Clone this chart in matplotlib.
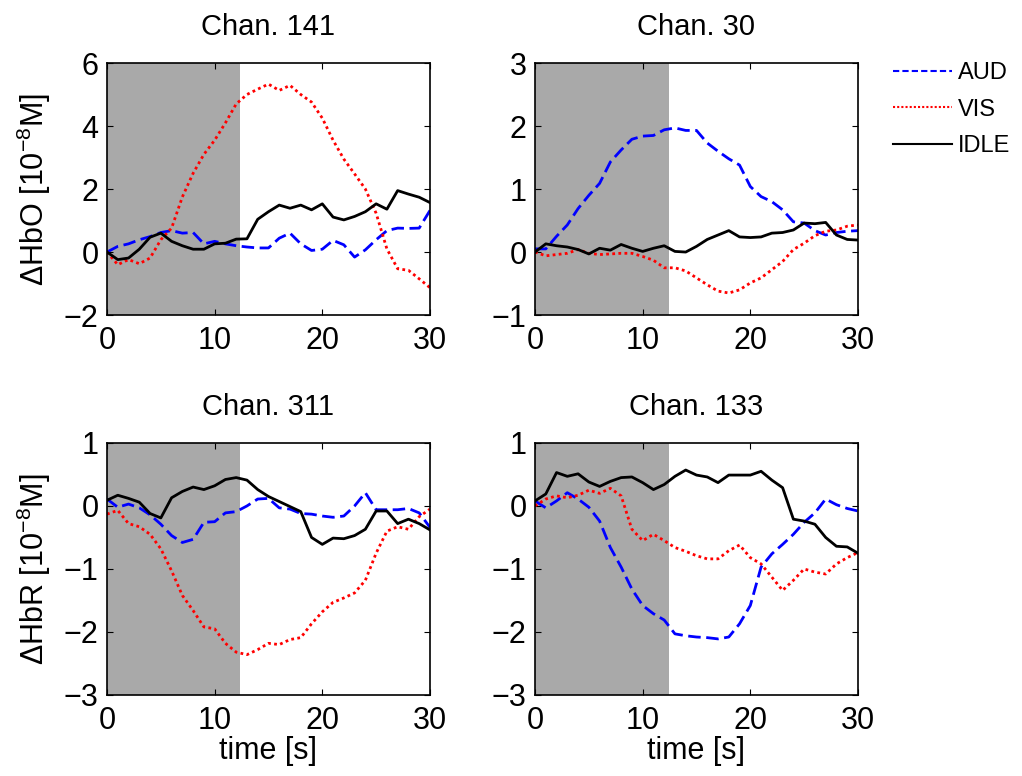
import numpy as np
import matplotlib
matplotlib.use("Agg")
import matplotlib.pyplot as plt
from matplotlib.lines import Line2D

plt.rcParams['font.family'] = ['Liberation Sans', 'DejaVu Sans']
plt.rcParams['mathtext.fontset'] = 'custom'
plt.rcParams['mathtext.rm'] = 'Liberation Sans'
plt.rcParams['mathtext.it'] = 'Liberation Sans:italic'

####################################################################
# data (1 s sampling)

time = np.arange(31)
stim_end = 12.4

titles = ['Chan. 141', 'Chan. 30', 'Chan. 311', 'Chan. 133']

aud_141 = [0, 0.18, 0.26, 0.39, 0.49, 0.62, 0.68, 0.6, 0.62, 0.26, 0.34, 0.26, 0.2, 0.16, 0.13, 0.13,
           0.44, 0.6, 0.26, 0.05, 0.09, 0.37, 0.23, -0.16, 0.07, 0.39, 0.68, 0.76, 0.75, 0.76, 1.32]
vis_141 = [0, -0.4, -0.24, -0.37, -0.19, 0.39, 0.76, 1.75, 2.5, 3.1, 3.55, 4.1, 4.7, 5.0, 5.17, 5.33,
           5.13, 5.29, 5.0, 4.76, 4.25, 3.55, 2.95, 2.48, 2.0, 1.23, 0.1, -0.53, -0.58, -0.85, -1.13]
idle_141 = [0, -0.24, -0.19, 0.09, 0.47, 0.6, 0.34, 0.2, 0.09, 0.09, 0.26, 0.28, 0.41, 0.42, 1.04, 1.28,
            1.49, 1.39, 1.49, 1.34, 1.53, 1.11, 1.02, 1.13, 1.28, 1.53, 1.36, 1.95, 1.84, 1.74, 1.57]

aud_30 = [0.05, 0.05, 0.25, 0.43, 0.69, 0.9, 1.09, 1.43, 1.62, 1.79, 1.84, 1.85, 1.94, 1.97, 1.93, 1.93,
          1.73, 1.6, 1.48, 1.38, 1.04, 0.88, 0.8, 0.67, 0.48, 0.46, 0.34, 0.27, 0.31, 0.33, 0.34]
vis_30 = [0, -0.06, -0.04, -0.02, 0.04, -0.02, -0.04, -0.03, -0.02, -0.02, -0.07, -0.13, -0.25, -0.25,
          -0.3, -0.41, -0.52, -0.62, -0.65, -0.6, -0.49, -0.41, -0.28, -0.15, 0.04, 0.14, 0.26, 0.33,
          0.35, 0.41, 0.43]
idle_30 = [0, 0.13, 0.1, 0.08, 0.04, -0.03, 0.06, 0.03, 0.12, 0.06, 0.01, 0.06, 0.1, 0.01, 0, 0.09,
           0.2, 0.27, 0.34, 0.24, 0.23, 0.24, 0.3, 0.31, 0.35, 0.46, 0.45, 0.47, 0.27, 0.2, 0.19]

aud_311 = [0.11, -0.02, 0.03, -0.03, -0.14, -0.29, -0.47, -0.58, -0.53, -0.26, -0.25, -0.11, -0.09, 0,
           0.11, 0.12, -0.03, -0.05, -0.12, -0.13, -0.16, -0.18, -0.16, 0, 0.21, -0.06, -0.06, -0.06,
           -0.04, -0.11, -0.34]
vis_311 = [-0.13, -0.07, -0.28, -0.33, -0.45, -0.68, -1.03, -1.42, -1.66, -1.92, -1.95, -2.18, -2.32,
           -2.36, -2.28, -2.18, -2.2, -2.12, -2.09, -1.87, -1.68, -1.53, -1.46, -1.38, -1.18, -0.75,
           -0.4, -0.33, -0.37, -0.17, -0.05]
idle_311 = [0.09, 0.17, 0.12, 0.06, -0.12, -0.19, 0.13, 0.23, 0.3, 0.26, 0.32, 0.42, 0.45, 0.41, 0.26,
            0.15, 0.07, -0.01, -0.09, -0.5, -0.61, -0.51, -0.52, -0.47, -0.37, -0.08, -0.08, -0.28,
            -0.21, -0.28, -0.38]

aud_133 = [0.08, -0.03, 0.08, 0.21, 0.11, -0.02, -0.24, -0.66, -0.97, -1.32, -1.58, -1.71, -1.81, -2.03,
           -2.06, -2.08, -2.09, -2.11, -2.08, -1.87, -1.58, -0.97, -0.76, -0.61, -0.45, -0.26, -0.11,
           0.11, 0.02, -0.04, -0.08]
vis_133 = [0, 0.11, 0.16, 0.13, 0.17, 0.25, 0.2, 0.28, 0.16, -0.37, -0.55, -0.45, -0.55, -0.66, -0.72,
           -0.79, -0.84, -0.84, -0.71, -0.62, -0.82, -0.92, -1.13, -1.34, -1.18, -1.0, -1.05, -1.08,
           -0.92, -0.82, -0.74]
idle_133 = [0.08, 0.19, 0.53, 0.47, 0.51, 0.38, 0.31, 0.39, 0.45, 0.46, 0.37, 0.26, 0.34, 0.47, 0.57,
            0.49, 0.46, 0.37, 0.49, 0.49, 0.49, 0.55, 0.41, 0.29, -0.21, -0.24, -0.29, -0.5, -0.64,
            -0.65, -0.75]

panels = [(aud_141, vis_141, idle_141), (aud_30, vis_30, idle_30),
          (aud_311, vis_311, idle_311), (aud_133, vis_133, idle_133)]
ylims = [(-2, 6), (-1, 3), (-3, 1), (-3, 1)]
yticks = [[-2, 0, 2, 4, 6], [-1, 0, 1, 2, 3], [-3, -2, -1, 0, 1], [-3, -2, -1, 0, 1]]

####################################################################

fig = plt.figure(figsize=(10.22, 7.76), dpi=100)
lefts = [0.1047, 0.5235, 0.1047, 0.5235]
bottoms = [0.594, 0.594, 0.1044, 0.1044]
w, h = 0.316, 0.3248

for i in range(4):
    ax = fig.add_axes([lefts[i], bottoms[i], w, h])
    aud, vis, idle = panels[i]
    ax.axvspan(0, stim_end, color='#a9a9a9', lw=0, zorder=0)
    ax.plot(time, aud, color='#0000ff', ls=(0, (4.5, 2)), lw=2)
    ax.plot(time, vis, color='#ff0000', ls=(0, (1, 1.2)), lw=2)
    ax.plot(time, idle, color='black', ls='-', lw=2)
    ax.set_xlim(0, 30)
    ax.set_ylim(*ylims[i])
    ax.set_xticks([0, 10, 20, 30])
    ax.set_yticks(yticks[i])
    ax.tick_params(direction='in', top=True, right=True, length=4, width=0.8,
                   labelsize=22)
    ax.tick_params(axis='y', pad=6)
    ax.tick_params(axis='x', pad=8)
    for s in ax.spines.values():
        s.set_linewidth(1.2)
    ax.set_title(titles[i], fontsize=21, pad=20)
    if i == 0:
        ax.set_ylabel('\u0394HbO [10$^{\\mathrm{-8}}$M]', fontsize=22, labelpad=8)
    if i == 2:
        ax.set_ylabel('\u0394HbR [10$^{\\mathrm{-8}}$M]', fontsize=22, labelpad=8)
    if i >= 2:
        ax.set_xlabel('time [s]', fontsize=22, labelpad=0)

handles = [Line2D([], [], color='#0000ff', ls=(0, (3, 1.5)), lw=1.5),
           Line2D([], [], color='#ff0000', ls=(0, (1, 1)), lw=1.5),
           Line2D([], [], color='black', lw=1.5)]
fig.legend(handles, ['AUD', 'VIS', 'IDLE'], loc='upper left', bbox_to_anchor=(0.874, 0.92),
           frameon=False, fontsize=17, borderpad=0, borderaxespad=0, handlelength=2.5,
           handletextpad=0.25, labelspacing=0.62)

fig.savefig('out.png', dpi=100)
